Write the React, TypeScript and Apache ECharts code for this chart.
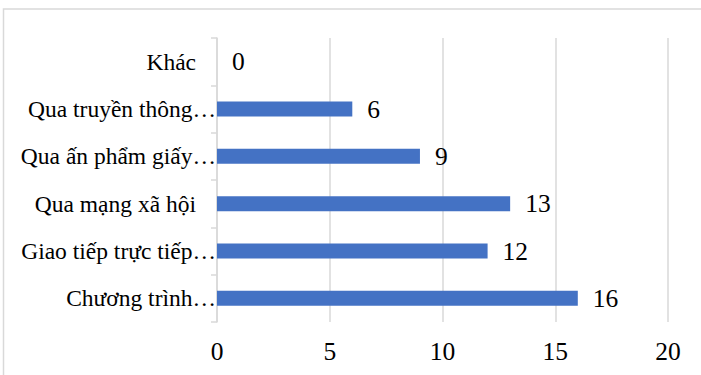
import React, { useEffect, useRef } from "react";
import * as echarts from "echarts";

const categories = [
  "Chương trình…",
  "Giao tiếp trực tiếp…",
  "Qua mạng xã hội",
  "Qua ấn phẩm giấy…",
  "Qua truyền thông…",
  "Khác",
];
const values = [16, 12, 13, 9, 6, 0];
const xTicks = { min: 0, max: 20, interval: 5 };

const FONT = "'Liberation Serif', 'Times New Roman', serif";
const FS = 23.5;
const NFS = 25.5;

export default function App() {
  const ref = useRef<HTMLDivElement>(null);
  useEffect(() => {
    document.body.style.margin = "0";
    const chart = echarts.init(ref.current!, null, { renderer: "svg" });
    chart.setOption({
      animation: false,
      backgroundColor: "#ffffff",
      graphic: [
        {
          type: "rect",
          shape: { x: 3.5, y: 9, width: 800, height: 500 },
          style: { fill: "none", stroke: "#d9d9d9", lineWidth: 1.5 },
          silent: true,
        },
      ],
      grid: { left: 217, right: 33, top: 38, bottom: 53, containLabel: false },
      xAxis: {
        type: "value",
        min: xTicks.min,
        max: xTicks.max,
        interval: xTicks.interval,
        axisLine: { show: false },
        axisTick: { show: false },
        splitLine: { show: true, lineStyle: { color: "#d9d9d9", width: 1.5 } },
        axisLabel: { color: "#000", fontFamily: FONT, fontSize: NFS, margin: 16 },
      },
      yAxis: {
        type: "category",
        data: categories,
        axisLine: { show: true, lineStyle: { color: "#d9d9d9", width: 1.5 } },
        axisTick: { show: true, length: 6, lineStyle: { color: "#d9d9d9", width: 1.5 } },
        axisLabel: {
          color: "#000",
          fontFamily: FONT,
          fontSize: FS,
          margin: 1,
          formatter: (v: string) => (v.endsWith("…") ? v : v + "{gap|}"),
          rich: { gap: { width: 20 } },
        },
      },
      series: [
        {
          type: "bar",
          data: values,
          barWidth: 15,
          itemStyle: { color: "#4472c4" },
          label: {
            show: true,
            position: "right",
            distance: 15,
            color: "#000",
            fontFamily: FONT,
            fontSize: NFS,
          },
        },
      ],
    });
    return () => chart.dispose();
  }, []);
  return <div ref={ref} style={{ width: 701, height: 375 }} />;
}
